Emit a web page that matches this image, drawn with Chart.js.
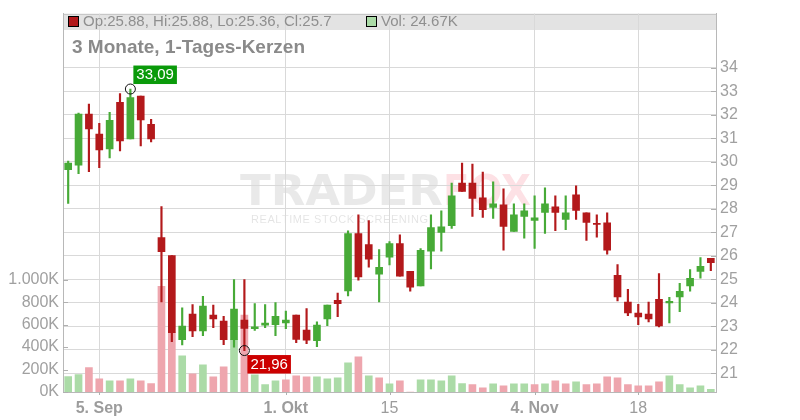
<!DOCTYPE html>
<html><head><meta charset="utf-8">
<script src="https://cdn.jsdelivr.net/npm/chart.js@4.4.1/dist/chart.umd.min.js"></script>
<style>html,body{margin:0;padding:0;background:#fff;}#wrap{width:800px;height:420px;}</style>
</head><body><div id="wrap"><canvas id="c" width="800" height="420"></canvas></div>
<script>
const dates = ['2024-09-02','2024-09-03','2024-09-04','2024-09-05','2024-09-06','2024-09-09','2024-09-10','2024-09-11','2024-09-12','2024-09-13',
'2024-09-16','2024-09-17','2024-09-18','2024-09-19','2024-09-20','2024-09-23','2024-09-24','2024-09-25','2024-09-26','2024-09-27',
'2024-09-30','2024-10-01','2024-10-02','2024-10-03','2024-10-04','2024-10-07','2024-10-08','2024-10-09','2024-10-10','2024-10-11',
'2024-10-14','2024-10-15','2024-10-16','2024-10-17','2024-10-18','2024-10-21','2024-10-22','2024-10-23','2024-10-24','2024-10-25',
'2024-10-28','2024-10-29','2024-10-30','2024-10-31','2024-11-01','2024-11-04','2024-11-05','2024-11-06','2024-11-07','2024-11-08',
'2024-11-11','2024-11-12','2024-11-13','2024-11-14','2024-11-15','2024-11-18','2024-11-19','2024-11-20','2024-11-21','2024-11-22',
'2024-11-25','2024-11-26','2024-11-27'];
const opens = [29.66,29.85,32.02,31.17,30.54,32.52,30.97,32.79,31.59,26.77,
26.00,22.42,23.51,22.80,23.47,23.21,22.42,23.26,22.89,23.04,
23.06,23.14,23.47,22.83,22.38,23.31,24.10,24.50,26.94,26.47,
25.21,25.93,26.51,25.33,24.71,26.19,26.99,27.27,29.09,29.09,
28.46,28.05,28.16,27.03,27.67,27.50,27.84,28.08,27.54,28.59,
27.82,27.37,27.40,25.16,24.02,23.55,23.51,24.14,23.99,24.24,
24.71,25.33,25.88];
const highs = [30.02,32.07,32.45,31.63,32.10,32.90,33.09,32.79,31.80,28.09,
26.00,23.78,23.92,24.27,23.89,23.42,24.98,24.98,23.96,23.92,
24.00,23.64,23.47,23.75,23.18,23.89,24.41,27.06,27.74,27.49,
26.26,26.60,26.89,25.33,26.30,27.74,27.91,29.09,29.94,29.90,
29.56,29.14,28.84,28.20,28.20,28.54,28.88,28.54,28.54,28.97,
27.82,27.74,27.82,25.62,24.57,23.93,24.02,25.24,24.23,24.82,
25.41,25.92,25.88];
const lows = [28.22,29.49,29.57,29.74,30.16,30.46,30.97,30.67,30.84,24.03,
22.34,22.20,22.55,22.59,22.93,22.21,22.10,21.96,22.82,22.93,
22.59,22.89,22.30,22.25,22.13,23.02,23.40,24.28,24.96,25.51,
24.03,25.60,25.13,24.49,24.71,25.43,26.19,27.16,28.73,27.67,
27.63,27.58,26.23,27.03,26.74,26.31,26.95,27.06,27.10,27.54,
26.65,26.78,26.06,24.07,23.44,23.06,23.18,22.97,23.14,23.61,
24.49,25.04,25.36];
const closes = [29.94,32.02,31.39,30.50,31.76,30.88,32.73,31.77,30.97,26.17,
22.72,23.00,22.80,23.85,23.31,22.42,23.73,22.90,22.97,23.13,
23.42,23.26,22.43,22.40,23.04,23.89,23.95,26.94,25.09,25.85,
25.50,26.51,25.13,24.66,26.22,27.19,27.23,28.54,28.73,28.43,
27.96,28.20,27.24,27.74,27.91,27.61,28.20,27.84,27.82,27.92,
27.41,27.33,26.23,24.24,23.56,23.39,23.31,23.01,24.05,24.48,
25.03,25.54,25.70];
// volume in thousands of shares
const volumes = [138,156,218,118,100,100,118,100,76,941,
527,321,162,242,135,224,466,684,153,65,
100,109,144,135,135,118,127,259,312,144,
127,73,100,0,109,109,100,144,76,65,
38,73,56,73,73,65,73,100,73,91,
65,73,135,127,65,56,56,91,144,65,
38,56,24.67];
const tickDates = ['2024-09-05','2024-10-01','2024-10-15','2024-11-04','2024-11-18'];
const tickTexts = ['5. Sep','1. Okt','15','4. Nov','18'];
const priceTicks = [21,22,23,24,25,26,27,28,29,30,31,32,33,34];
const volumeTicks = [0,200,400,600,800,1000];
const titleText = '3 Monate, 1-Tages-Kerzen';

const FONT = "'Liberation Sans', Arial, sans-serif";
const RED = '#b3191b', GREEN = '#47aa37';
const VRED = '#eea6ae', VGREEN = '#abdba7';
const up = closes.map((c,i)=>c >= opens[i]);
const candleColors = up.map(u => u ? GREEN : RED);
const volUp = closes.map((c,i)=> i === 0 ? c >= opens[i] : c >= closes[i-1]);
const volColors = volUp.map(u => u ? VGREEN : VRED);

function fmtK(v){ return (v >= 1000 ? Math.floor(v/1000) + '.' + String(v%1000).padStart(3,'0') : String(v)) + 'K'; }

const deco = {
  id: 'deco',
  beforeDraw(chart){
    const ctx = chart.ctx, ca = chart.chartArea;
    ctx.save();
    ctx.fillStyle = '#fff'; ctx.fillRect(0,0,chart.width,chart.height);
    ctx.fillStyle = '#e3e3e3';
    ctx.fillRect(ca.left, ca.top, ca.right - ca.left, 30 - ca.top);
    ctx.strokeStyle = '#c8c8c8'; ctx.lineWidth = 1;
    ctx.beginPath(); ctx.moveTo(ca.left, Math.round(ca.top)+0.5); ctx.lineTo(ca.right, Math.round(ca.top)+0.5); ctx.stroke();
    // watermark
    ctx.textBaseline = 'alphabetic';
    ctx.font = "bold 42px 'DejaVu Sans', sans-serif";
    let w = ctx.measureText('TRADER').width;
    ctx.save(); ctx.translate(240, 205); ctx.scale(203 / w, 1);
    ctx.fillStyle = 'rgba(0,0,0,0.085)'; ctx.fillText('TRADER', 0, 0); ctx.restore();
    w = ctx.measureText('FOX').width;
    ctx.save(); ctx.translate(443, 205); ctx.scale(88 / w, 1);
    ctx.fillStyle = 'rgba(240,40,70,0.14)'; ctx.fillText('FOX', 0, 0); ctx.restore();
    ctx.font = "11px " + FONT;
    ctx.fillStyle = 'rgba(0,0,0,0.11)';
    const sub = 'REALTIME STOCK SCREENING';
    const sw = ctx.measureText(sub).width;
    const sp = (176 - sw) / (sub.length - 1);
    let x = 251;
    for (const ch of sub){ ctx.fillText(ch, x, 223); x += ctx.measureText(ch).width + sp; }
    ctx.restore();
  },
  afterDraw(chart){
    const ctx = chart.ctx, ca = chart.chartArea;
    const ys = chart.scales.y, yv = chart.scales.yv, xs = chart.scales.x;
    ctx.save();
    ctx.strokeStyle = '#b0b0b0'; ctx.lineWidth = 1;
    ctx.beginPath();
    priceTicks.forEach(v => { const y = Math.round(ys.getPixelForValue(v)) + 0.5; ctx.moveTo(ca.right - 5, y); ctx.lineTo(ca.right, y); });
    volumeTicks.forEach(v => { const y = Math.round(yv.getPixelForValue(v)) + 0.5; ctx.moveTo(ca.left, y); ctx.lineTo(ca.left + 5, y); });
    tickDates.forEach(d => { const x = Math.round(xs.getPixelForValue(dates.indexOf(d))) + 0.5; ctx.moveTo(x, ca.bottom); ctx.lineTo(x, ca.bottom + 3); });
    ctx.stroke();
    ctx.fillStyle = '#8a8a8a';
    ctx.font = "bold 19px " + FONT;
    ctx.textBaseline = 'middle'; ctx.textAlign = 'left';
    ctx.fillText(titleText, 72, 48);
    const n = closes.length - 1;
    ctx.font = "15px " + FONT;
    ctx.fillStyle = candleColors[n]; ctx.fillRect(68.5, 16.5, 10, 10);
    ctx.strokeStyle = '#000'; ctx.strokeRect(68.5, 16.5, 10, 10);
    ctx.fillStyle = '#8f8f8f';
    ctx.fillText('Op:' + opens[n] + ', Hi:' + highs[n] + ', Lo:' + lows[n] + ', Cl:' + closes[n], 83, 22);
    ctx.fillStyle = volColors[n]; ctx.fillRect(366.5, 16.5, 10, 10);
    ctx.strokeRect(366.5, 16.5, 10, 10);
    ctx.fillStyle = '#8f8f8f';
    ctx.fillText('Vol: ' + volumes[n] + 'K', 381, 22);
    const hi = Math.max(...highs), hiI = highs.indexOf(hi);
    const lo = Math.min(...lows), loI = lows.indexOf(lo);
    function mark(i, v, above, bg){
      const x = xs.getPixelForValue(i), y = ys.getPixelForValue(v);
      ctx.beginPath(); ctx.arc(x, y, 5, 0, Math.PI*2); ctx.strokeStyle = '#111'; ctx.lineWidth = 1; ctx.stroke();
      const txt = v.toFixed(2).replace('.', ',');
      ctx.font = "15px " + FONT;
      const tw = ctx.measureText(txt).width + 6, th = 18.5;
      const bx = x + 3, by = above ? y - 5 - th : y + 4.5;
      ctx.fillStyle = bg; ctx.fillRect(bx, by, tw, th);
      ctx.fillStyle = '#fff'; ctx.textAlign = 'left'; ctx.textBaseline = 'middle';
      ctx.fillText(txt, bx + 3, by + th/2 + 0.5);
    }
    mark(hiI, hi, true, '#0a9a0a');
    mark(loI, lo, false, '#cc0000');
    ctx.restore();
  }
};

new Chart(document.getElementById('c'), {
  type: 'bar',
  data: {
    labels: dates,
    datasets: [
      { label: 'Vol', data: volumes, yAxisID: 'yv', backgroundColor: volColors, barThickness: 7, grouped: false, order: 3 },
      { label: 'Wick', data: lows.map((l,i)=>[l, highs[i]]), yAxisID: 'y', backgroundColor: candleColors, barThickness: 1.5, grouped: false, order: 2 },
      { label: 'Body', data: opens.map((o,i)=>[o, closes[i]]), yAxisID: 'y', backgroundColor: candleColors, barThickness: 7, grouped: false, order: 1 }
    ]
  },
  options: {
    responsive: false, animation: false, devicePixelRatio: 1,
    layout: { padding: { top: 12, left: 0, right: 0, bottom: 0 } },
    plugins: { legend: { display: false }, tooltip: { enabled: false } },
    scales: {
      x: {
        type: 'category', offset: true,
        grid: { offset: false, color: '#d9d9d9', drawTicks: false },
        border: { color: '#b8b8b8' },
        afterBuildTicks: s => { s.ticks = tickDates.map(d => ({ value: dates.indexOf(d) })); },
        ticks: {
          autoSkip: false, maxRotation: 0, padding: 6.5, color: '#9c9c9c',
          callback: v => tickTexts[tickDates.indexOf(dates[v])],
          font: ctx => {
            const t = ctx.tick ? tickTexts[tickDates.indexOf(dates[ctx.tick.value])] : '';
            return { family: FONT, size: 16, weight: (t && t.indexOf('.') >= 0) ? 'bold' : 'normal' };
          }
        },
        afterFit: s => { s.height = 28; }
      },
      y: {
        position: 'right', min: 20.196, max: 36.30,
        grid: { color: '#d9d9d9', drawTicks: false },
        border: { color: '#b8b8b8' },
        afterBuildTicks: s => { s.ticks = priceTicks.map(v => ({ value: v })); },
        ticks: { padding: 4, color: '#a0a0a0', font: { family: FONT, size: 16 } },
        afterFit: s => { s.width = 84; }
      },
      yv: {
        position: 'left', min: 0, max: 3368,
        grid: { display: false, drawTicks: false },
        border: { display: true, color: '#b8b8b8' },
        afterBuildTicks: s => { s.ticks = volumeTicks.map(v => ({ value: v })); },
        ticks: { padding: 4, color: '#a0a0a0', font: { family: FONT, size: 16 }, callback: v => fmtK(v) },
        afterFit: s => { s.width = 63; }
      }
    }
  },
  plugins: [deco]
});
</script>
</body></html>
